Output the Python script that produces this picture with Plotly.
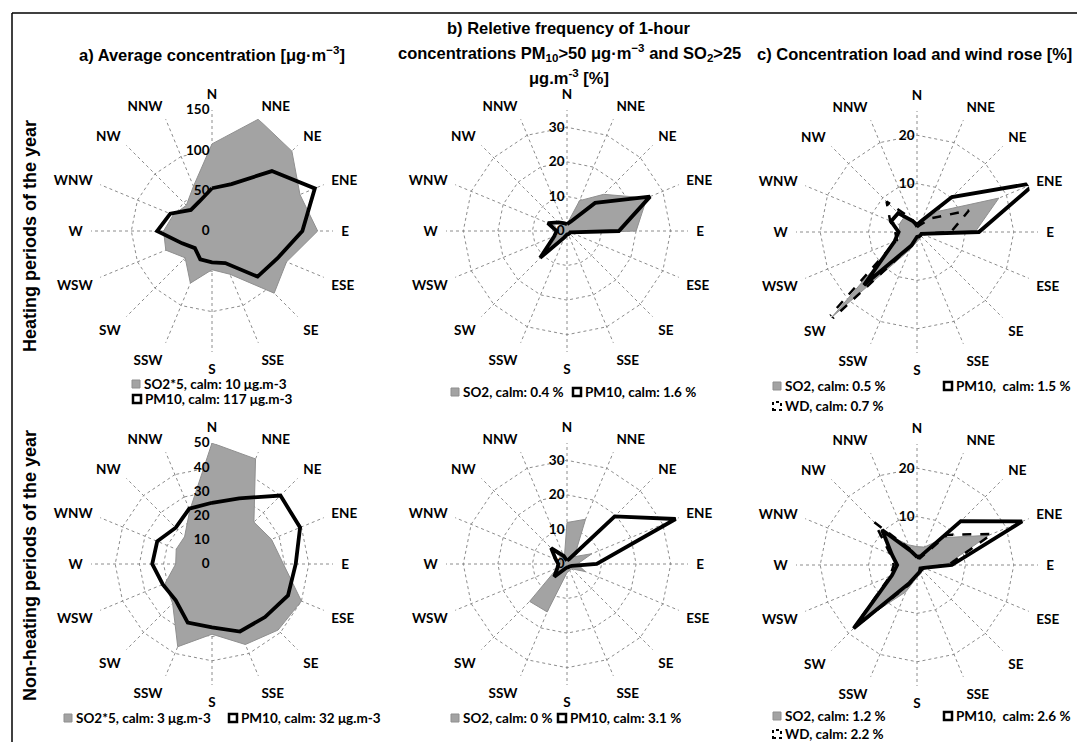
import plotly.graph_objects as go

W, H = 1077, 742

dirs = ["N", "NNE", "NE", "ENE", "E", "ESE", "SE", "SSE",
        "S", "SSW", "SW", "WSW", "W", "WNW", "NW", "NNW"]

# a) average concentration, heating
a_heat_so2x5 = [108, 150, 140, 118, 131, 100, 109, 58, 48, 70, 47, 62, 60, 52, 45, 60]
a_heat_pm10 = [53, 63, 105, 138, 112, 88, 80, 43, 39, 38, 30, 40, 68, 56, 37, 40]
# b) relative frequency, heating
b_heat_so2 = [2, 9.5, 15, 25, 20, 1.5, 1, 1, 1.5, 2, 8, 3, 3, 3, 2.5, 2]
b_heat_pm10 = [2, 3, 11.5, 26, 15, 1, 1, 1, 1, 2, 11, 4, 3, 6, 3.5, 2.5]
# c) concentration load and wind rose, heating
c_heat_so2 = [1.5, 2, 6, 18.3, 12, 1.5, 1, 1.5, 2, 4, 25, 4, 3.5, 4, 4, 2.5]
c_heat_pm10 = [1.5, 2.5, 10.2, 26.6, 12.8, 1, 1, 1, 1, 3, 15.5, 5, 3.8, 5.8, 5.5, 2.5]
c_heat_wd = [1, 1.5, 4, 11.6, 7, 1, 1, 1, 1.5, 3, 33, 4.5, 4.5, 6, 8.9, 3]
# a) non-heating
a_non_so2x5 = [50, 47, 24.5, 26.6, 29.5, 40, 38.6, 36, 29, 37, 23, 21, 15, 16, 16, 24]
a_non_pm10 = [25.3, 29.4, 40, 39.4, 34.6, 34, 31, 30.2, 26.2, 26.2, 21.2, 22, 24.7, 24.5, 21.2, 24.7]
# b) non-heating
b_non_so2 = [12, 14, 3, 7.8, 3, 5.7, 2, 2, 2.5, 15, 15.3, 3, 2, 2, 3, 2]
b_non_pm10 = [1, 1.5, 19.5, 34, 8.6, 1.5, 1, 1, 1, 1.5, 5.2, 3, 2.5, 3.5, 6.5, 2.5]
# c) non-heating
c_non_so2 = [3.8, 4, 8, 16, 6, 2, 1.5, 2, 2.5, 6, 16.5, 5, 4, 5.5, 9, 4.5]
c_non_pm10 = [1.7, 2, 12.8, 23.5, 7.2, 1.5, 1, 1.5, 2, 4, 18.5, 5.6, 4.1, 5.6, 10.2, 3]
c_non_wd = [1.5, 1.5, 8.8, 16.8, 6.5, 1.5, 1.5, 1.5, 2, 4.5, 18.5, 6, 4.8, 6, 12.5, 3.5]

GRID = "#8c8c8c"
GREY_FILL = "#a3a3a3"
LBL = dict(family="Lato", size=13.5, color="black", weight="bold")
TITLE = dict(family="Liberation Sans", size=16.5, color="black", weight="bold")

def px_x(x):
    return x / W

def px_y(y):
    return 1 - y / H

fig = go.Figure()

def close(v):
    return list(v) + [v[0]]

def add_so2(vals, sp):
    fig.add_trace(go.Scatterpolar(r=close(vals), theta=close(dirs), mode="lines",
                                  fill="toself", fillcolor=GREY_FILL,
                                  line=dict(color="#8f8f8f", width=1),
                                  subplot=sp, showlegend=False, cliponaxis=False))

def add_pm(vals, sp):
    fig.add_trace(go.Scatterpolar(r=close(vals), theta=close(dirs), mode="lines",
                                  line=dict(color="black", width=3.8),
                                  subplot=sp, showlegend=False, cliponaxis=False))

def add_wd(vals, sp):
    fig.add_trace(go.Scatterpolar(r=close(vals), theta=close(dirs), mode="lines",
                                  line=dict(color="black", width=2.5, dash="dash"),
                                  subplot=sp, showlegend=False, cliponaxis=False))

R = 121
def dom(cx, cy):
    return dict(x=[px_x(cx - R), px_x(cx + R)], y=[px_y(cy + R), px_y(cy - R)])

def polar(cx, cy, rmax, tickvals):
    return dict(
        domain=dom(cx, cy),
        bgcolor="rgba(0,0,0,0)",
        gridshape="linear",
        angularaxis=dict(type="category", categoryorder="array", categoryarray=dirs,
                         direction="clockwise", rotation=90,
                         showgrid=True, gridcolor=GRID, griddash="dot", gridwidth=1,
                         showline=False, ticks="outside", ticklen=5, tickcolor="rgba(0,0,0,0)",
                         tickfont=LBL, layer="above traces"),
        radialaxis=dict(range=[0, rmax], tickvals=tickvals, ticktext=[str(t) for t in tickvals],
                        showgrid=True, gridcolor=GRID, griddash="dot", gridwidth=1,
                        showline=False, ticks="", angle=90, side="counterclockwise",
                        tickangle=90, tickfont=LBL, layer="above traces"),
    )

add_so2(a_heat_so2x5, "polar"); add_pm(a_heat_pm10, "polar")
add_so2(b_heat_so2, "polar2"); add_pm(b_heat_pm10, "polar2")
add_so2(c_heat_so2, "polar3"); add_pm(c_heat_pm10, "polar3"); add_wd(c_heat_wd, "polar3")
add_so2(a_non_so2x5, "polar4"); add_pm(a_non_pm10, "polar4")
add_so2(b_non_so2, "polar5"); add_pm(b_non_pm10, "polar5")
add_so2(c_non_so2, "polar6"); add_pm(c_non_pm10, "polar6"); add_wd(c_non_wd, "polar6")

fig.update_layout(
    width=W, height=H, margin=dict(l=0, r=0, t=0, b=0),
    paper_bgcolor="white", plot_bgcolor="white",
    polar=polar(212, 231, 150, [0, 50, 100, 150]),
    polar2=polar(567, 231, 35, [0, 10, 20, 30]),
    polar3=polar(917, 232, 25, [10, 20]),
    polar4=polar(212, 564, 50, [0, 10, 20, 30, 40, 50]),
    polar5=polar(567, 564, 35, [0, 10, 20, 30]),
    polar6=polar(917, 565, 25, [10, 20]),
)

ann = []
def txt(x, y, s, font, xanchor="center", textangle=0):
    ann.append(dict(x=px_x(x), y=px_y(y), xref="paper", yref="paper", text=s, showarrow=False,
                    font=font, xanchor=xanchor, yanchor="middle", textangle=textangle))

txt(212, 54, "a) Average concentration [μg·m<sup>−3</sup>]", TITLE)
txt(569, 28, "b) Reletive frequency of 1-hour", TITLE)
txt(569, 53, "concentrations PM<sub>10</sub>>50 μg·m<sup>−3</sup> and SO<sub>2</sub>>25", TITLE)
txt(569, 77, "μg.m<sup>-3</sup> [%]", TITLE)
txt(914, 54, "c) Concentration load and wind rose [%]", TITLE)

ROW = dict(family="Liberation Sans", size=18, color="black", weight="bold")
txt(30, 236, "Heating periods of the year", ROW, textangle=-90)
txt(30, 566, "Non-heating periods of the year", ROW, textangle=-90)

LEG = dict(family="Lato", size=13.5, color="black", weight="bold")
shapes = []
def sq(x, y, kind):
    s = 8
    d = dict(type="rect", xref="paper", yref="paper",
             x0=px_x(x - s / 2), x1=px_x(x + s / 2), y0=px_y(y + s / 2), y1=px_y(y - s / 2))
    if kind == "grey":
        d.update(fillcolor=GREY_FILL, line=dict(color="#8f8f8f", width=1))
    elif kind == "pm":
        d.update(fillcolor="white", line=dict(color="black", width=2.5))
    else:
        d.update(fillcolor="white", line=dict(color="black", width=2, dash="dot"))
    shapes.append(d)

def item(x, y, kind, label):
    sq(x, y, kind)
    txt(x + 6, y, label, LEG, xanchor="left")

item(136, 384, "grey", "SO2*5, calm: 10 μg.m-3")
item(137, 399, "pm", "PM10, calm: 117 μg.m-3")
item(68, 718, "grey", "SO2*5, calm: 3 μg.m-3")
item(233, 718, "pm", "PM10, calm: 32 μg.m-3")
item(455, 392, "grey", "SO2, calm: 0.4 %")
item(577, 392, "pm", "PM10, calm: 1.6 %")
item(455, 718, "grey", "SO2, calm: 0 %")
item(562, 718, "pm", "PM10, calm: 3.1 %")
item(777, 386, "grey", "SO2, calm: 0.5 %")
item(948, 386, "pm", "PM10,  calm: 1.5 %")
item(777, 406, "wd", "WD, calm: 0.7 %")
item(777, 716, "grey", "SO2, calm: 1.2 %")
item(948, 716, "pm", "PM10,  calm: 2.6 %")
item(777, 734, "wd", "WD, calm: 2.2 %")

# frame
shapes.append(dict(type="line", xref="paper", yref="paper", x0=px_x(12), x1=1, y0=px_y(13), y1=px_y(13),
                   line=dict(color="black", width=1.5)))
shapes.append(dict(type="line", xref="paper", yref="paper", x0=px_x(12), x1=px_x(12), y0=0, y1=px_y(13),
                   line=dict(color="black", width=1.5)))

fig.update_layout(annotations=ann, shapes=shapes)
fig.write_html("out.html", config={"displayModeBar": False},
               post_script="document.body.style.margin='0';document.body.style.overflow='hidden';")
